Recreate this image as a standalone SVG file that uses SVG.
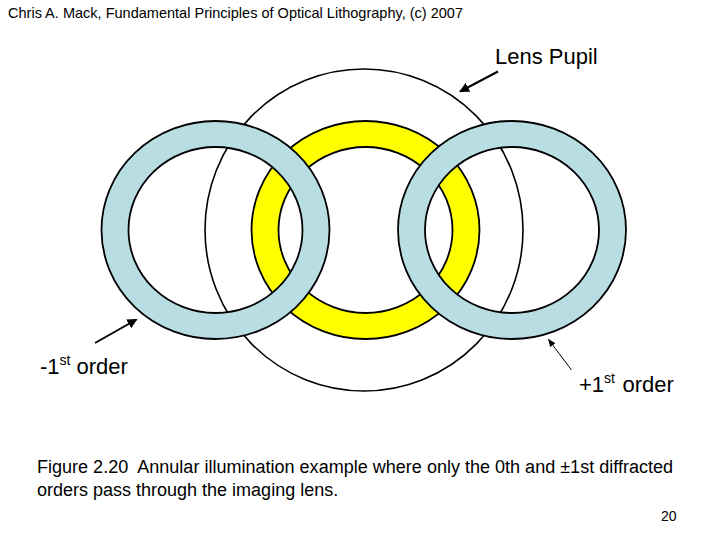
<svg xmlns="http://www.w3.org/2000/svg" xmlns:xlink="http://www.w3.org/1999/xlink" width="720" height="540" viewBox="0 0 720 540">
<style>
.t{font-family:"Liberation Sans",Arial,sans-serif;fill:#000}
.ring{fill-rule:evenodd;stroke:#000;stroke-width:1.8}
.conn{stroke:#000;fill:none}
</style>
<defs>
<path id="annulus" d="M -114,0 A114,109 0 1,0 114,0 A114,109 0 1,0 -114,0 Z M -87,0 A87,83 0 1,0 87,0 A87,83 0 1,0 -87,0 Z"/>
<marker id="ah" viewBox="0 0 10 10" refX="9" refY="5" markerWidth="5" markerHeight="5" orient="auto" markerUnits="strokeWidth">
<path d="M0,0 L10,5 L0,10 Z" fill="#000"/>
</marker>
<marker id="ah2" viewBox="0 0 10 10" refX="9" refY="5" markerWidth="8" markerHeight="8" orient="auto" markerUnits="strokeWidth">
<path d="M0,1 L10,5 L0,9 Z" fill="#000"/>
</marker>
</defs>
<rect width="720" height="540" fill="#fff"/>
<text class="t" x="8" y="18" font-size="14.5" textLength="455" lengthAdjust="spacingAndGlyphs">Chris A. Mack, Fundamental Principles of Optical Lithography, (c) 2007</text>
<g id="lens-pupil">
<ellipse cx="364" cy="230" rx="159" ry="161" fill="#fff" stroke="#000" stroke-width="1.6"/>
</g>
<g id="zero-order">
<use xlink:href="#annulus" href="#annulus" class="ring" fill="#ffff00" transform="translate(365.5,230)"/>
</g>
<g id="minus-first-order">
<use xlink:href="#annulus" href="#annulus" class="ring" fill="#b8dde2" transform="translate(215.5,230)"/>
</g>
<g id="plus-first-order">
<use xlink:href="#annulus" href="#annulus" class="ring" fill="#b8dde2" transform="translate(512,230)"/>
</g>
<g id="connectors">
<line class="conn" x1="498" y1="71.5" x2="460" y2="91.5" stroke-width="2" marker-end="url(#ah)"/>
<line class="conn" x1="95" y1="343" x2="136.5" y2="319.5" stroke-width="2" marker-end="url(#ah)"/>
<line class="conn" x1="571.5" y1="370" x2="548.5" y2="339.5" stroke-width="1" marker-end="url(#ah2)"/>
</g>
<g id="labels">
<text class="t" x="495" y="63.5" font-size="22">Lens Pupil</text>
<text class="t" x="40" y="374" font-size="22">-1<tspan font-size="14" dy="-9">st</tspan><tspan dy="9" x="76.5">order</tspan></text>
<text class="t" x="579" y="392" font-size="22">+1<tspan font-size="14" dy="-9">st</tspan><tspan dy="9" x="622.5">order</tspan></text>
</g>
<text class="t" x="37" y="473" font-size="18" xml:space="preserve" style="white-space:pre" textLength="636" lengthAdjust="spacingAndGlyphs">Figure 2.20  Annular illumination example where only the 0th and ±1st diffracted</text>
<text class="t" x="37" y="496" font-size="18">orders pass through the imaging lens.</text>
<text class="t" x="661" y="521" font-size="14">20</text>
</svg>
